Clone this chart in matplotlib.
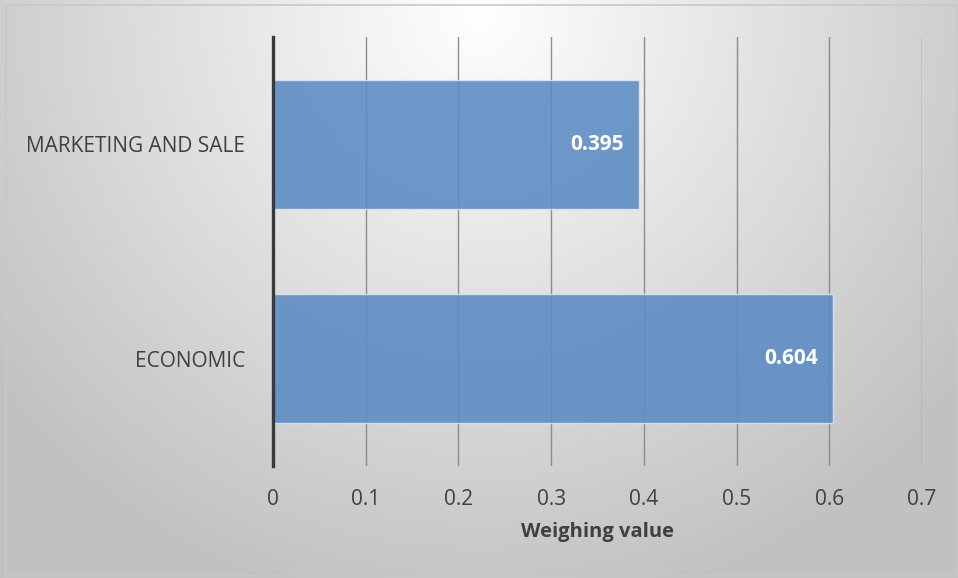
import numpy as np
import matplotlib
matplotlib.use('Agg')
import matplotlib.pyplot as plt
from matplotlib.patches import Rectangle

# 데이터
categories = ['ECONOMIC', 'MARKETING AND SALE']
values = [0.604, 0.395]
x_ticks = [0, 0.1, 0.2, 0.3, 0.4, 0.5, 0.6, 0.7]
x_label = 'Weighing value'

plt.rcParams['font.family'] = ['Open Sans', 'DejaVu Sans']

fig = plt.figure(figsize=(9.58, 5.78), dpi=100)

# 배경 (방사형 그라데이션)
bg = fig.add_axes([0, 0, 1, 1], zorder=-10)
yy, xx = np.mgrid[0:1:300j, 0:1:500j]
dist = np.sqrt(((xx - 0.5) * 1.66) ** 2 + (yy - 0.02) ** 2)
shade = 1.0 - 0.24 * np.clip(dist / 1.05, 0, 1)
bg.imshow(np.dstack([shade] * 3), extent=[0, 1, 0, 1], origin='upper',
          aspect='auto')
bg.add_patch(Rectangle((0.006, 0.004), 0.993, 0.987, fill=False,
                       edgecolor='#c8c8c8', linewidth=1.2,
                       transform=bg.transAxes))
bg.set_xlim(0, 1)
bg.set_ylim(0, 1)
bg.axis('off')

ax = fig.add_axes([0.285, 0.194, 0.6774, 0.742])
ax.patch.set_alpha(0)

y_pos = np.arange(len(categories))
bars = ax.barh(y_pos, values, height=0.6, color='#5b8bc4', alpha=0.88,
               edgecolor='#dce6f2', linewidth=1.0, zorder=3)

for rect, v in zip(bars, values):
    ax.annotate(f'{v:.3f}', xy=(v, rect.get_y() + rect.get_height() / 2),
                xytext=(-11, 0), textcoords='offset points',
                ha='right', va='center', color='white',
                fontsize=15, fontweight='bold', zorder=5)

ax.set_xlim(0, 0.7)
ax.set_ylim(-0.5, 1.5)
ax.set_xticks(x_ticks)
ax.set_xticklabels([f'{t:g}' for t in x_ticks], fontsize=15, color='#404040')
ax.set_yticks(y_pos)
ax.set_yticklabels(categories, fontsize=15, color='#404040')
ax.tick_params(axis='both', length=0)
ax.tick_params(axis='x', pad=17)
ax.tick_params(axis='y', pad=20)

ax.xaxis.grid(True, color='#8c8c8c', linewidth=1.0, zorder=1)
ax.set_axisbelow(True)

for side in ['top', 'right', 'bottom']:
    ax.spines[side].set_visible(False)
ax.spines['left'].set_color('#3a3a3a')
ax.spines['left'].set_linewidth(2.4)
ax.spines['left'].set_zorder(6)

ax.set_xlabel(x_label, fontsize=14.5, fontweight='bold', color='#404040',
              labelpad=8)

plt.savefig('out.png', dpi=100)
plt.close()
